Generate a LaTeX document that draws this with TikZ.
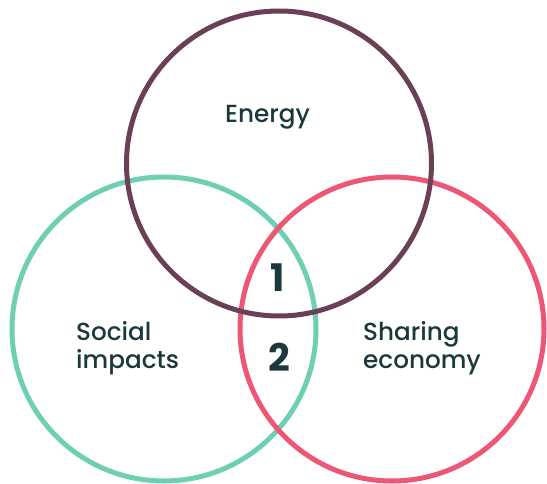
\documentclass[tikz,border=0pt]{standalone}
\usepackage{fontspec}
\setmainfont{Poppins}[UprightFont=* Medium, BoldFont=* Bold]
\definecolor{ringEnergy}{HTML}{6B3F55}
\definecolor{ringSocial}{HTML}{6FCFB5}
\definecolor{ringSharing}{HTML}{EE5675}
\definecolor{labelInk}{HTML}{1B383C}
\begin{document}
\begin{tikzpicture}[x=1pt,y=-1pt,
  ring/.style={line width=5pt},
  label/.style={text=labelInk, font=\fontsize{24.7}{28}\selectfont, inner sep=0pt, align=left},
  digit/.style={text=labelInk, font=\fontsize{38}{38}\selectfont\bfseries, inner sep=0pt}]
  \useasboundingbox (0,0) rectangle (547,484);
  % three overlapping rings
  \draw[ring, ringSocial]  (164,329) circle (152);
  \draw[ring, ringSharing] (392,329) circle (152);
  \draw[ring, ringEnergy]  (279,163.5) circle (152.5);
  % ring labels
  \node[label, anchor=base west] (energy) at (225,123) {Energy};
  \node[label, anchor=north west] (social) at (76,321) {Social\\impacts};
  \node[label, anchor=north west] (sharing) at (363,321) {Sharing\\economy};
  % overlap numbers
  \node[digit, anchor=base] (one) at (278,292) {1};
  \node[digit, anchor=base] (two) at (279,371) {2};
\end{tikzpicture}
\end{document}
